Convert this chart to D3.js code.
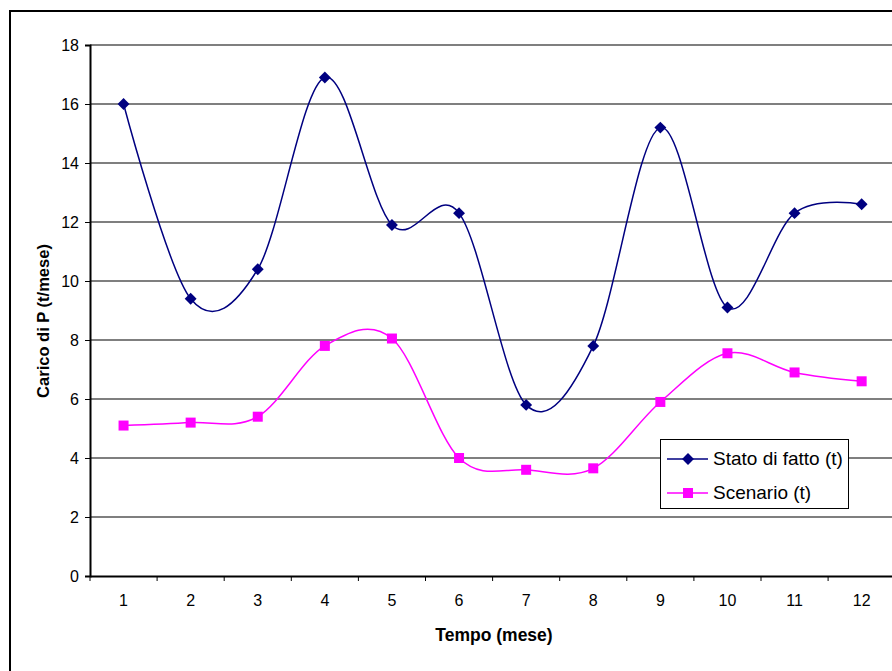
<!DOCTYPE html>
<html>
<head>
<meta charset="utf-8">
<script src="https://cdn.jsdelivr.net/npm/d3@7"></script>
<style>
  body { margin: 0; background: #fff; }
  svg { display: block; font-family: Arial, "Liberation Sans", sans-serif; }
</style>
</head>
<body>
<script>
let width = 892;
let height = 671;

// data
let months = ["1", "2", "3", "4", "5", "6", "7", "8", "9", "10", "11", "12"];
let statoDiFatto = [16.0, 9.4, 10.4, 16.9, 11.9, 12.3, 5.8, 7.8, 15.2, 9.1, 12.3, 12.6];
let scenario = [5.1, 5.2, 5.4, 7.8, 8.05, 4.0, 3.6, 3.65, 5.9, 7.55, 6.9, 6.6];
let yTicks = [0, 2, 4, 6, 8, 10, 12, 14, 16, 18];
let seriesNames = ["Stato di fatto (t)", "Scenario (t)"];

let svg = d3.select("body")
            .append("svg")
            .attr("width", width)
            .attr("height", height);

// outer chart frame (continues past the window)
svg.append("rect")
    .attr("x", 10)
    .attr("y", 11)
    .attr("width", 1000)
    .attr("height", 800)
    .style("fill", "white")
    .style("stroke", "black")
    .style("stroke-width", 2);

let plotLeft = 90;
let plotTop = 45;
let plotBottom = 576;
let band = 67.1;

let x = d3.scaleBand()
    .domain(months)
    .range([plotLeft, plotLeft + band * months.length]);

let y = d3.scaleLinear()
    .domain([0, 18])
    .range([plotBottom, plotTop]);

// gridlines
svg.append("g")
    .selectAll("line")
    .data(yTicks.filter(d => d > 0))
    .join("line")
    .attr("x1", plotLeft)
    .attr("x2", width)
    .attr("y1", d => y(d))
    .attr("y2", d => y(d))
    .style("stroke", "#555")
    .style("stroke-width", 1.3);

// y axis
let yAxis = svg.append("g")
    .attr("transform", `translate(${plotLeft},0)`)
    .call(d3.axisLeft(y).tickValues(yTicks).tickSize(5).tickPadding(6));
yAxis.select(".domain").style("stroke", "black").style("stroke-width", 2);
yAxis.selectAll(".tick line").style("stroke", "black");
yAxis.selectAll("text")
    .style("font-size", "16px")
    .style("font-family", "Arial, 'Liberation Sans', sans-serif")
    .attr("fill", "black");

// x axis
let xAxis = svg.append("g")
    .attr("transform", `translate(0,${plotBottom})`)
    .call(d3.axisBottom(x).tickSize(0).tickPadding(19));
xAxis.select(".domain").style("stroke", "black").style("stroke-width", 2);
xAxis.selectAll("text")
    .style("font-size", "16px")
    .style("font-family", "Arial, 'Liberation Sans', sans-serif")
    .attr("fill", "black");

// tick marks between categories
svg.append("g")
    .selectAll("line")
    .data(months)
    .join("line")
    .attr("x1", d => x(d))
    .attr("x2", d => x(d))
    .attr("y1", plotBottom)
    .attr("y2", plotBottom + 5)
    .style("stroke", "black")
    .style("stroke-width", 1);

// axis titles
svg.append("text")
    .attr("x", 494)
    .attr("y", 641)
    .attr("text-anchor", "middle")
    .style("font-size", "17.5px")
    .style("font-weight", "bold")
    .text("Tempo (mese)");

svg.append("text")
    .attr("transform", "translate(49,321) rotate(-90)")
    .attr("text-anchor", "middle")
    .style("font-size", "16.5px")
    .style("font-weight", "bold")
    .text("Carico di P (t/mese)");

let line = d3.line()
    .x((d, i) => x(months[i]) + x.bandwidth() / 2)
    .y(d => y(d))
    .curve(d3.curveCardinal.tension(0));

let diamond = d3.symbol().type(d3.symbolDiamond2).size(90);

// Stato di fatto
svg.append("path")
    .attr("d", line(statoDiFatto))
    .style("fill", "none")
    .style("stroke", "#000080")
    .style("stroke-width", 1.5);

svg.append("g")
    .selectAll("path")
    .data(statoDiFatto)
    .join("path")
    .attr("d", diamond)
    .attr("transform", (d, i) => `translate(${x(months[i]) + x.bandwidth() / 2},${y(d)})`)
    .style("fill", "#000080");

// Scenario
svg.append("path")
    .attr("d", line(scenario))
    .style("fill", "none")
    .style("stroke", "#ff00ff")
    .style("stroke-width", 1.5);

svg.append("g")
    .selectAll("rect")
    .data(scenario)
    .join("rect")
    .attr("x", (d, i) => x(months[i]) + x.bandwidth() / 2 - 5)
    .attr("y", d => y(d) - 5)
    .attr("width", 10)
    .attr("height", 10)
    .style("fill", "#ff00ff");

// legend
let legend = svg.append("g");
legend.append("rect")
    .attr("x", 660.5)
    .attr("y", 439.5)
    .attr("width", 188)
    .attr("height", 69)
    .style("fill", "white")
    .style("stroke", "black")
    .style("stroke-width", 1);

let legendY = [459, 493];
let legendColors = ["#000080", "#ff00ff"];
seriesNames.forEach((name, i) => {
    legend.append("line")
        .attr("x1", 667)
        .attr("x2", 708)
        .attr("y1", legendY[i])
        .attr("y2", legendY[i])
        .style("stroke", legendColors[i])
        .style("stroke-width", 1.5);
    if (i === 0) {
        legend.append("path")
            .attr("d", diamond)
            .attr("transform", `translate(688,${legendY[i]})`)
            .style("fill", legendColors[i]);
    } else {
        legend.append("rect")
            .attr("x", 683)
            .attr("y", legendY[i] - 5)
            .attr("width", 10)
            .attr("height", 10)
            .style("fill", legendColors[i]);
    }
    legend.append("text")
        .attr("x", 713)
        .attr("y", legendY[i] + 6)
        .style("font-size", "19px")
        .text(name);
});
</script>
</body>
</html>
